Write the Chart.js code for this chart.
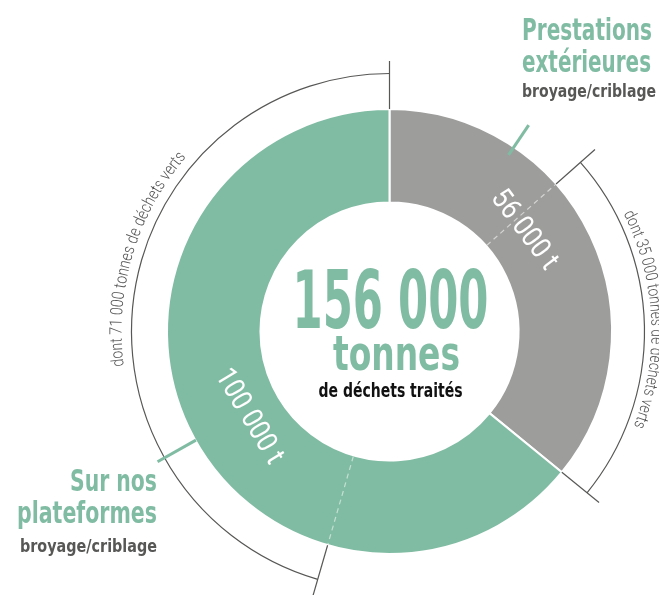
<!DOCTYPE html>
<html lang="fr">
<head>
<meta charset="utf-8">
<title>156 000 tonnes de déchets traités</title>
<script src="https://cdn.jsdelivr.net/npm/chart.js@4.4.1/dist/chart.umd.min.js"></script>
<style>
    html, body { margin: 0; padding: 0; background: #fff; }
    #wrap { width: 659px; height: 595px; }
</style>
</head>
<body>
<div id="wrap"><canvas id="chart" width="659" height="595"></canvas></div>
<script>
// Data
const categories = ['Prestations extérieures', 'Sur nos plateformes'];
const categoryLines = [['Prestations', 'extérieures'], ['Sur nos', 'plateformes']];
const tonnages = [56000, 100000];
const greenWaste = [35000, 71000];
const ringLabels = ['56 000 t', '100 000 t'];
const noteLabels = ['dont 35 000 tonnes de déchets verts', 'dont 71 000 tonnes de déchets verts'];
const subLabel = 'broyage/criblage';
const totalLines = ['156 000', 'tonnes', 'de déchets traités'];

const GREEN = '#80bca3';
const GRAY = '#9d9d9c';
const DARK = '#575756';
const FONT = "'Liberation Sans Narrow', 'DejaVu Sans Condensed', 'Roboto', sans-serif";
const THIN = "'Roboto', 'DejaVu Sans Condensed', sans-serif";

// draw text squeezed/stretched to a given width
function fitText(ctx, text, x, y, width, font, color, align) {
    ctx.save();
    ctx.font = font;
    ctx.fillStyle = color;
    ctx.textAlign = align || 'left';
    ctx.textBaseline = 'alphabetic';
    const w = ctx.measureText(text).width;
    ctx.translate(x, y);
    ctx.scale(width / w, 1);
    ctx.fillText(text, 0, 0);
    ctx.restore();
}

// text along a circle, clockwise, tops outward
function arcText(ctx, text, cx, cy, r, centerAngle, spanDeg, font, color) {
    ctx.save();
    ctx.font = font;
    ctx.fillStyle = color;
    ctx.textAlign = 'center';
    ctx.textBaseline = 'alphabetic';
    const total = ctx.measureText(text).width;
    const target = r * spanDeg * Math.PI / 180;
    const sx = target / total;
    let a = centerAngle - target / 2 / r;
    for (const ch of text) {
        const w = ctx.measureText(ch).width * sx;
        const mid = a + w / 2 / r;
        ctx.save();
        ctx.translate(cx + r * Math.cos(mid), cy + r * Math.sin(mid));
        ctx.rotate(mid + Math.PI / 2);
        ctx.scale(sx, 1);
        ctx.fillText(ch, 0, 0);
        ctx.restore();
        a += w / r;
    }
    ctx.restore();
}

function radial(ctx, cx, cy, a, r1, r2) {
    ctx.beginPath();
    ctx.moveTo(cx + r1 * Math.cos(a), cy + r1 * Math.sin(a));
    ctx.lineTo(cx + r2 * Math.cos(a), cy + r2 * Math.sin(a));
    ctx.stroke();
}

const decorPlugin = {
    id: 'decor',
    afterDatasetsDraw(chart) {
        const ctx = chart.ctx;
        const arcs = chart.getDatasetMeta(0).data;
        const cx = arcs[0].x, cy = arcs[0].y;
        const outer = arcs[0].outerRadius, inner = arcs[0].innerRadius;

        arcs.forEach((arc, i) => {
            const span = arc.endAngle - arc.startAngle;
            const subStart = arc.endAngle - span * greenWaste[i] / tonnages[i];

            // dashed split for the green waste share
            ctx.save();
            ctx.strokeStyle = i === 0 ? '#d4d4d3' : '#c4e0d3';
            ctx.lineWidth = 1.2;
            ctx.setLineDash([5, 4]);
            radial(ctx, cx, cy, subStart, inner + 1, outer - 1);
            ctx.restore();

            // bracket around the green waste share
            const br = i === 0 ? 255 : 258;
            ctx.save();
            ctx.strokeStyle = DARK;
            ctx.lineWidth = 1.2;
            ctx.beginPath();
            ctx.arc(cx, cy, br, subStart, arc.endAngle);
            ctx.stroke();
            radial(ctx, cx, cy, subStart, outer, outer + 52);
            radial(ctx, cx, cy, arc.endAngle, outer, outer + 48);
            ctx.restore();

            // note along the bracket
            const noteAt = i === 0 ? arc.startAngle + span * 0.675 : arc.startAngle + span * 0.682;
            const noteR = i === 0 ? 262 : 268;
            arcText(ctx, noteLabels[i], cx, cy, noteR, noteAt, 48, '300 17px ' + THIN, '#555');

            // green pointer line toward the category label
            const pAt = arc.startAngle + span * (i === 0 ? 0.263 : 0.483);
            ctx.save();
            ctx.strokeStyle = GREEN;
            ctx.lineWidth = 3;
            radial(ctx, cx, cy, pAt, i === 0 ? 213 : 222, i === 0 ? 249 : 266);
            ctx.restore();

            // value label inside the ring
            const lAt = arc.startAngle + span * (i === 0 ? 0.41 : 0.475);
            const lR = i === 0 ? 171 : 162;
            ctx.save();
            ctx.translate(cx + lR * Math.cos(lAt), cy + lR * Math.sin(lAt));
            ctx.rotate(i === 0 ? lAt + Math.PI / 2 : lAt - Math.PI / 2);
            fitText(ctx, ringLabels[i], 0, 10, i === 0 ? 92 : 106, '29px ' + THIN, '#fff', 'center');
            ctx.restore();
        });

        // centre total
        fitText(ctx, totalLines[0], cx + 1, 328, 196, 'bold 81px ' + FONT, GREEN, 'center');
        fitText(ctx, totalLines[1], cx + 7, 370, 127, 'bold 48px ' + FONT, GREEN, 'center');
        fitText(ctx, totalLines[2], cx + 1, 397, 144, 'bold 20px ' + FONT, '#111', 'center');

        // category labels
        fitText(ctx, categoryLines[0][0], 522, 40, 130, 'bold 31px ' + FONT, GREEN, 'left');
        fitText(ctx, categoryLines[0][1], 522, 72, 129, 'bold 31px ' + FONT, GREEN, 'left');
        fitText(ctx, subLabel, 522, 97, 134, 'bold 18px ' + FONT, DARK, 'left');
        fitText(ctx, categoryLines[1][0], 157, 491, 87, 'bold 31px ' + FONT, GREEN, 'right');
        fitText(ctx, categoryLines[1][1], 157, 523, 140, 'bold 31px ' + FONT, GREEN, 'right');
        fitText(ctx, subLabel, 157, 552, 137, 'bold 18px ' + FONT, DARK, 'right');
    }
};

new Chart(document.getElementById('chart'), {
    type: 'doughnut',
    data: {
        labels: categories,
        datasets: [{
            data: tonnages,
            backgroundColor: [GRAY, GREEN],
            borderColor: '#fff',
            borderWidth: 2,
            hoverOffset: 0
        }]
    },
    options: {
        responsive: false,
        animation: false,
        cutout: '58%',
        layout: { padding: { left: 166, right: 46, top: 108, bottom: 40 } },
        plugins: {
            legend: { display: false },
            tooltip: { enabled: false }
        }
    },
    plugins: [decorPlugin]
});
</script>
</body>
</html>
